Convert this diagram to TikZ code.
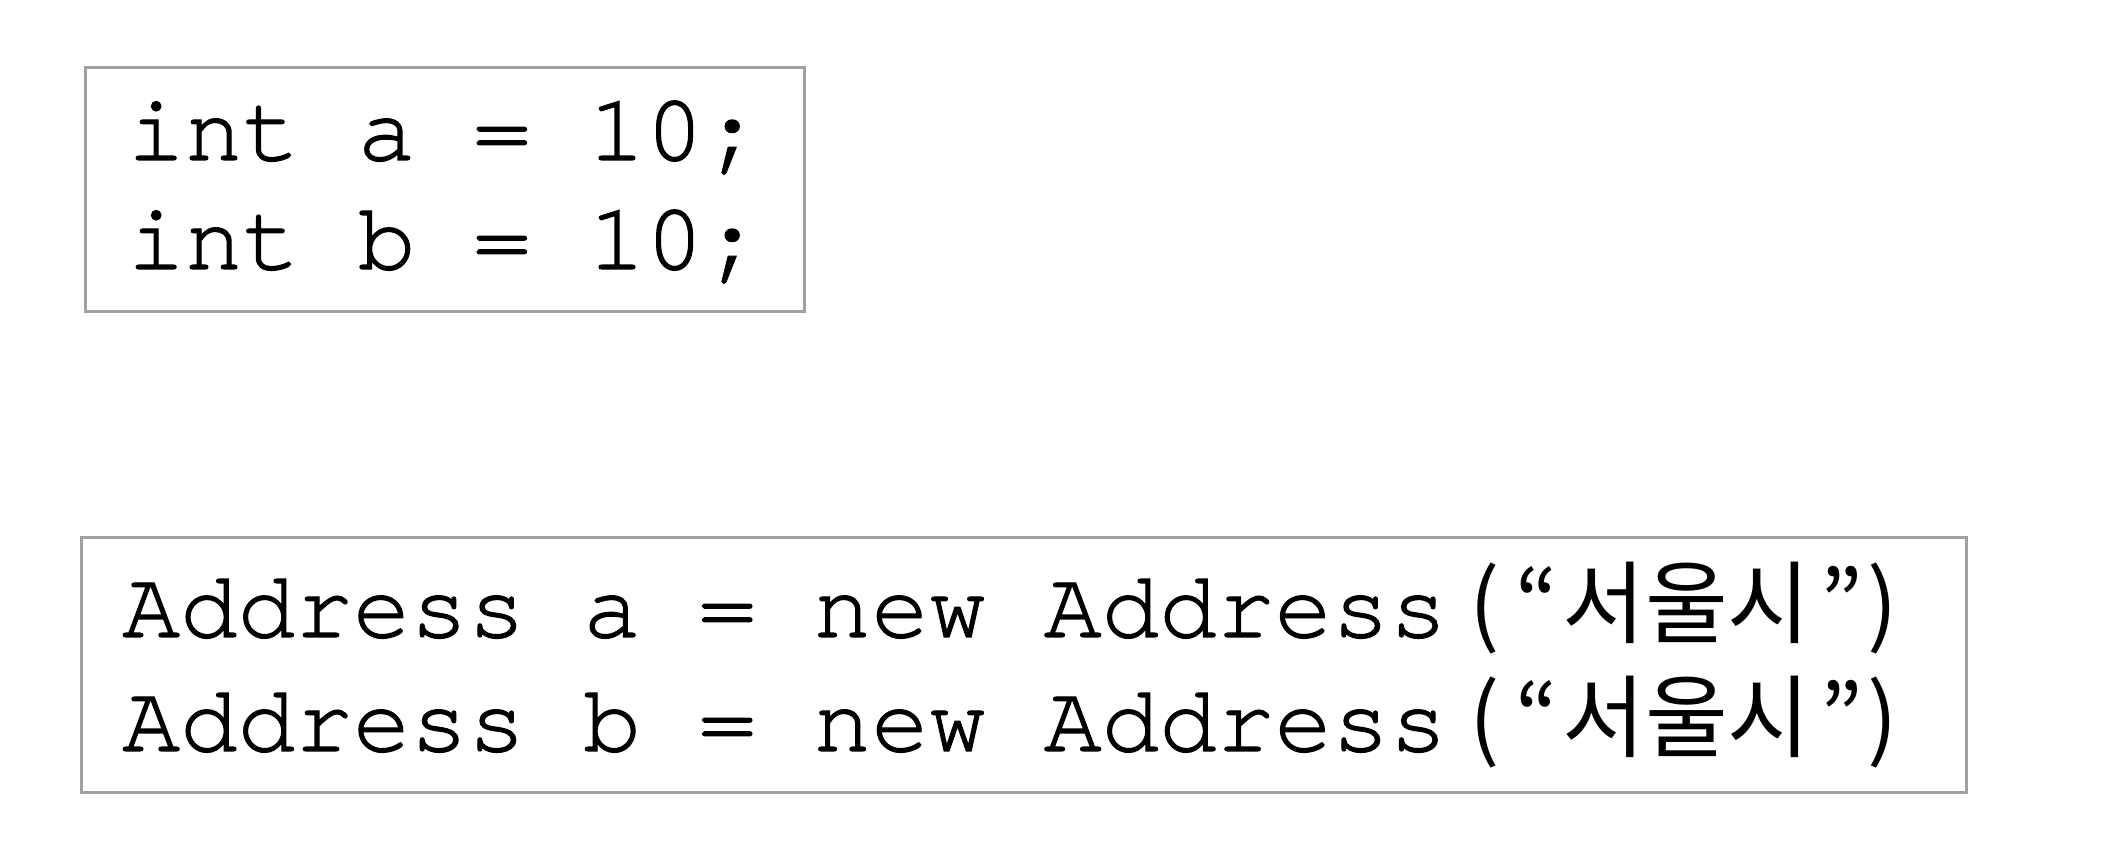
\documentclass[tikz,border=0pt]{standalone}
\usepackage{fontspec}
\newfontfamily\krfont{Noto Sans CJK KR}
\newfontfamily\cursorfont[FakeBold=1.2]{TeX Gyre Cursor}
\newcommand{\codefont}{\cursorfont\fontsize{48}{48}\selectfont}
\definecolor{boxgray}{RGB}{160,160,160}
\newcommand{\krpart}{{\krfont\fontsize{45}{45}\selectfont\hspace{11pt}(\hspace{8pt}“\hspace{2pt}서울시\hspace{5pt}”\hspace{2pt})}}
\begin{document}
\begin{tikzpicture}[x=0.5pt,y=-0.5pt,
  box/.style={draw=boxgray, line width=1.5pt},
  codeline/.style={anchor=base west, inner sep=0pt, font=\codefont}]
\useasboundingbox (0,0) rectangle (2120,854);
\draw[box] (85,68) rectangle (804,312);
\draw[box] (81,538) rectangle (1966,792);
\node[codeline] (a1) at (127,160) {int a = 10;};
\node[codeline] (b1) at (127,269) {int b = 10;};
\node[codeline] (a2) at (122,637) {Address a = new Address\krpart};
\node[codeline] (b2) at (122,751) {Address b = new Address\krpart};
\end{tikzpicture}
\end{document}
